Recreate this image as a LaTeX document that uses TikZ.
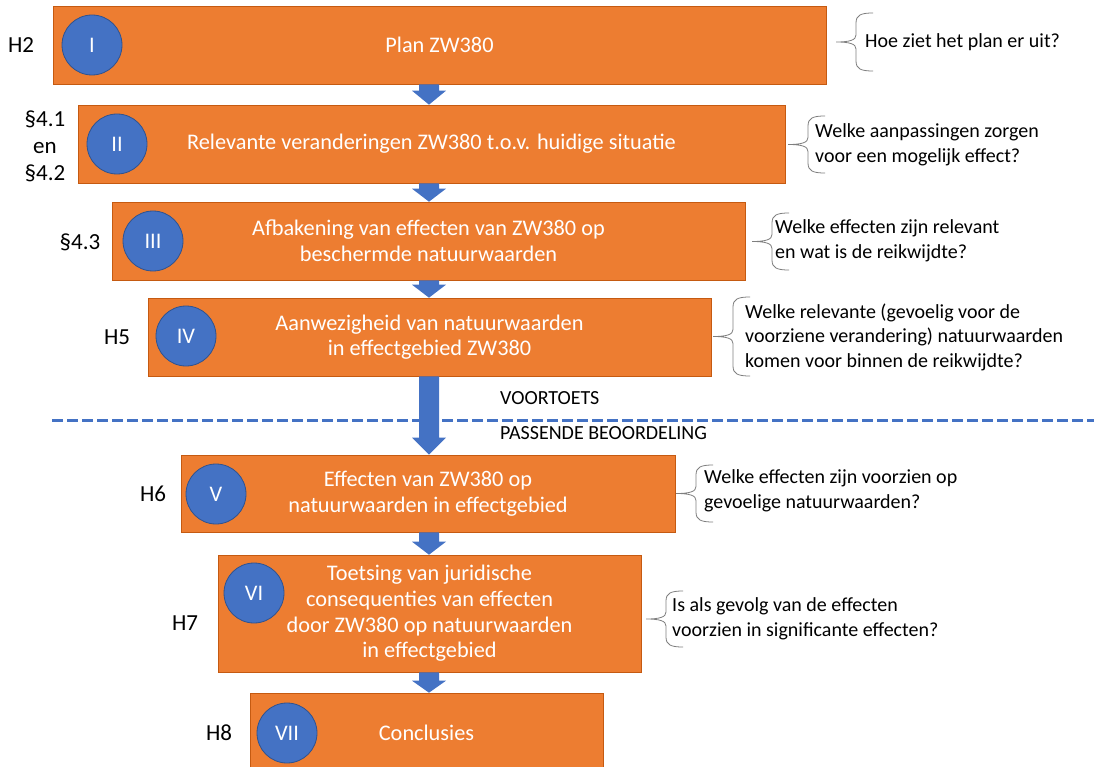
\documentclass[tikz,border=0pt]{standalone}
\usepackage{fontspec}
\setmainfont{Carlito}
\usetikzlibrary{calc}
\definecolor{boxorange}{HTML}{ED7D31}
\definecolor{boxedge}{HTML}{C55A11}
\definecolor{circblue}{HTML}{4472C4}
\definecolor{circedge}{HTML}{2F528F}
\definecolor{bracegray}{HTML}{7F7F7F}
\tikzset{
  box/.style={draw=boxedge, line width=0.6pt, fill=boxorange, text=white, align=center,
    font=\fontsize{22.3}{25.6}\selectfont, inner sep=0pt},
  circ/.style={circle, draw=circedge, line width=0.8pt, fill=circblue, text=white,
    minimum size=60pt, inner sep=0pt, font=\fontsize{22.3}{25.6}\selectfont},
  lbl/.style={align=center, font=\fontsize{23}{27}\selectfont, inner sep=0pt},
  quest/.style={anchor=west, align=left, font=\fontsize{20}{24.5}\selectfont, inner sep=0pt},
  bracepath/.style={draw=bracegray, line width=0.8pt},
  arrowfill/.style={fill=circblue},
  divider/.style={draw=circblue, line width=3pt, dash pattern=on 11pt off 4pt},
  phase/.style={anchor=west, font=\fontsize{20}{24}\selectfont, inner sep=0pt}
}
\newcommand\blockarr[3]{%
  \fill[arrowfill] let \p1=(#1.south), \p2=(#2.north), \p3=(axis) in
    (\x3-10pt,\y1) -- (\x3+10pt,\y1) -- (\x3+10pt,\y2+#3) -- (\x3+17pt,\y2+#3)
    -- (\x3,\y2) -- (\x3-17pt,\y2+#3) -- (\x3-10pt,\y2+#3) -- cycle;}
\newcommand\qbrace[3]{%
  \draw[bracepath] (#1+37,#2) .. controls (#1+25,#2) and (#1+20,#2+2) .. (#1+20,#2+10)
    -- (#1+20,{(#2+#3)/2-7}) .. controls (#1+20,{(#2+#3)/2-2}) and (#1+14,{(#2+#3)/2}) .. (#1,{(#2+#3)/2})
    .. controls (#1+14,{(#2+#3)/2}) and (#1+20,{(#2+#3)/2+2}) .. (#1+20,{(#2+#3)/2+7})
    -- (#1+20,#3-10) .. controls (#1+20,#3-2) and (#1+25,#3) .. (#1+37,#3);}
\begin{document}
\begin{tikzpicture}[x=1pt,y=-1pt]
\useasboundingbox (0,0) rectangle (1094,767);
\coordinate (axis) at (429,0);
% boxes
\node[box, minimum width=773pt, minimum height=78pt] (b1) at (439.5,45) {Plan ZW380};
\node[box, minimum width=707pt, minimum height=78pt] (b2) at (431.5,144) {Relevante veranderingen ZW380 t.o.v. huidige situatie};
\node[box, minimum width=633pt, minimum height=78pt] (b3) at (428.5,241) {Afbakening van effecten van ZW380 op\\beschermde natuurwaarden};
\node[box, minimum width=563pt, minimum height=78pt] (b4) at (429.5,337) {Aanwezigheid van natuurwaarden\\in effectgebied ZW380};
\node[box, minimum width=494pt, minimum height=77pt] (b5) at (428,493.5) {Effecten van ZW380 op\\natuurwaarden in effectgebied};
\node[box, minimum width=423pt, minimum height=117pt] (b6) at (429.5,613.5) {Toetsing van juridische\\consequenties van effecten\\door ZW380 op natuurwaarden\\in effectgebied};
\node[box, minimum width=353pt, minimum height=80pt] (b7) at (426.5,733) {Conclusies};
% circles
\node[circ] (c1) at (92,45) {I};
\node[circ] (c2) at (117,144) {II};
\node[circ] (c3) at (153,241) {III};
\node[circ] (c4) at (186,336) {IV};
\node[circ] (c5) at (216,494) {V};
\node[circ] (c6) at (254,593) {VI};
\node[circ] (c7) at (287,733) {VII};
% arrows
\blockarr{b1}{b2}{14pt}
\blockarr{b2}{b3}{13pt}
\blockarr{b3}{b4}{13pt}
\blockarr{b4}{b5}{17pt}
\blockarr{b5}{b6}{13pt}
\blockarr{b6}{b7}{12pt}
% divider
\coordinate (dl) at (52,420);
\coordinate (dr) at (1094,420);
\draw[divider] (dl) -- (dr);
\node[phase] (voor) at (500,398) {VOORTOETS};
\node[phase] (pass) at (500,433) {PASSENDE BEOORDELING};
% left labels
\node[lbl] (l1) at (21,45) {H2};
\node[lbl] (l2) at (45,146) {§4.1\\en\\§4.2};
\node[lbl] (l3) at (80,242) {§4.3};
\node[lbl] (l4) at (117,337) {H5};
\node[lbl] (l5) at (153,494) {H6};
\node[lbl] (l6) at (185,623) {H7};
\node[lbl] (l7) at (219,733) {H8};
% braces and questions
\qbrace{836}{13}{71}
\node[quest] (q1) at (865,42) {Hoe ziet het plan er uit?};
\qbrace{788}{116}{173}
\node[quest] (q2) at (815,145) {Welke aanpassingen zorgen\\voor een mogelijk effect?};
\qbrace{752}{213}{270}
\node[quest] (q3) at (775,241) {Welke effecten zijn relevant\\en wat is de reikwijdte?};
\qbrace{713}{297}{376}
\node[quest] (q4) at (745,337) {Welke relevante (gevoelig voor de\\voorziene verandering) natuurwaarden\\komen voor binnen de reikwijdte?};
\qbrace{676}{465}{522}
\node[quest] (q5) at (704,491) {Welke effecten zijn voorzien op\\gevoelige natuurwaarden?};
\qbrace{646}{591}{647}
\node[quest] (q6) at (672,619) {Is als gevolg van de effecten\\voorzien in significante effecten?};
\end{tikzpicture}
\end{document}
